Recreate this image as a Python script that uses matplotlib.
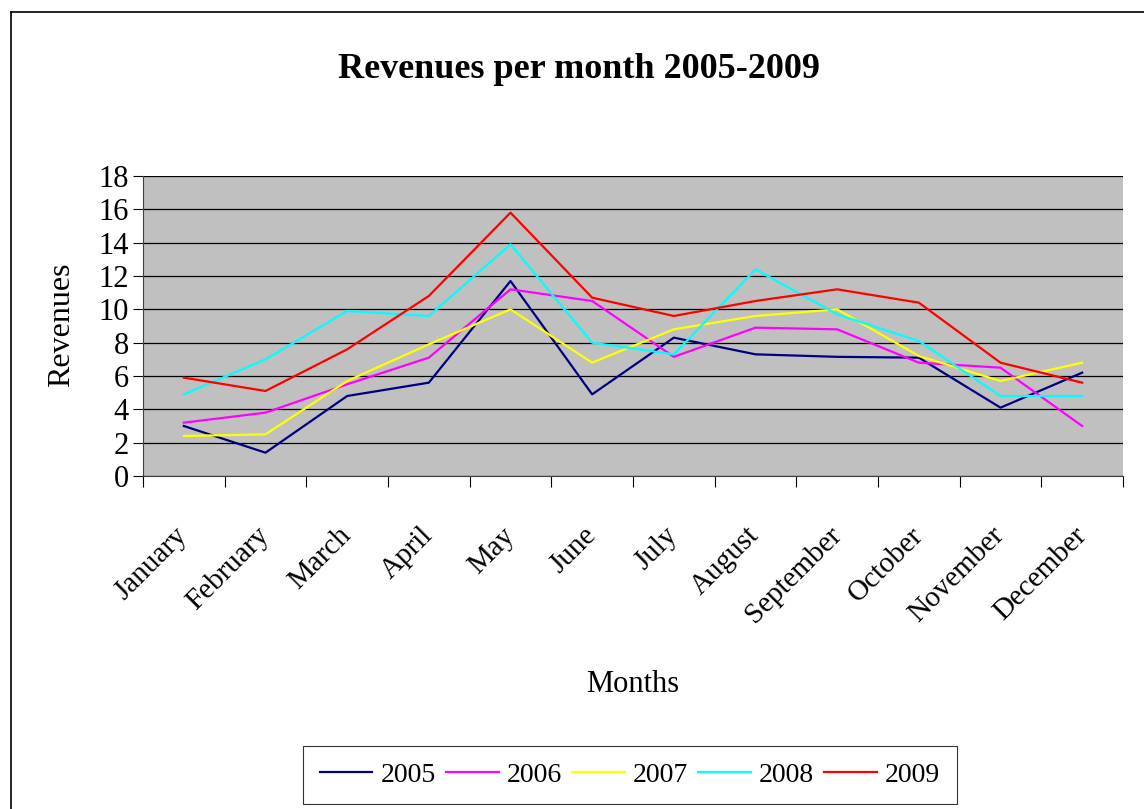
import matplotlib.pyplot as plt
from matplotlib.lines import Line2D

months = ['January', 'February', 'March', 'April', 'May', 'June', 'July',
          'August', 'September', 'October', 'November', 'December']

rev_2005 = [3.0, 1.4, 4.8, 5.6, 11.7, 4.9, 8.3, 7.3, 7.15, 7.1, 4.1, 6.2]
rev_2006 = [3.2, 3.8, 5.5, 7.1, 11.2, 10.5, 7.15, 8.9, 8.8, 6.8, 6.5, 3.0]
rev_2007 = [2.4, 2.5, 5.7, 7.9, 10.0, 6.8, 8.8, 9.6, 10.0, 7.2, 5.7, 6.8]
rev_2008 = [4.9, 7.0, 9.9, 9.6, 13.9, 8.0, 7.3, 12.4, 9.7, 8.1, 4.8, 4.8]
rev_2009 = [5.9, 5.1, 7.6, 10.8, 15.8, 10.7, 9.6, 10.5, 11.2, 10.4, 6.8, 5.6]

series = [('2005', rev_2005, '#000080'),
          ('2006', rev_2006, '#FF00FF'),
          ('2007', rev_2007, '#FFFF00'),
          ('2008', rev_2008, '#00FFFF'),
          ('2009', rev_2009, '#FF0000')]

plt.rcParams['font.family'] = ['Liberation Serif', 'DejaVu Serif']

fig = plt.figure(figsize=(11.44, 8.09), dpi=100)
ax = fig.add_axes([143 / 1144, 1 - 476 / 809, (1123 - 143) / 1144, 300 / 809])
ax.set_facecolor('#C0C0C0')

x = list(range(len(months)))
for name, vals, col in series:
    ax.plot(x, vals, color=col, lw=1.6, label=name)

ax.set_xlim(-0.5, 11.5)
ax.set_ylim(0, 18)
ax.set_yticks(range(0, 19, 2))
ax.tick_params(axis='y', labelsize=22, length=7, width=0.8, direction='out', pad=3)
ax.yaxis.grid(True, color='black', lw=0.9)
ax.set_axisbelow(True)

# month labels sit between the boundary ticks
ax.set_xticks(x)
ax.set_xticklabels(months, rotation=45, ha='right', va='center',
                   rotation_mode='anchor', fontsize=21)
ax.tick_params(axis='x', which='major', length=0, pad=40)
ax.set_xticks([i - 0.5 for i in range(13)], minor=True)
ax.tick_params(axis='x', which='minor', length=8, width=0.8, direction='out')

for side in ['top', 'right']:
    ax.spines[side].set_visible(False)
ax.spines['left'].set_color('#404040')
ax.spines['bottom'].set_color('#404040')

fig.text(0.5 * (338 + 820) / 1144, 1 - 70 / 809, 'Revenues per month 2005-2009',
         ha='center', va='center', fontsize=26, fontweight='bold')
fig.text(633 / 1144, 1 - 685 / 809, 'Months', ha='center', va='center', fontsize=22)
fig.text(62 / 1144, 1 - 325 / 809, 'Revenues', ha='center', va='center',
         fontsize=23, rotation=90)

handles = [Line2D([], [], color=c, lw=1.6) for _, _, c in series]
leg = fig.legend(handles, [s[0] for s in series], loc='center',
                 bbox_to_anchor=(630 / 1144, 1 - 775 / 809), ncol=5, fontsize=20,
                 frameon=True, fancybox=False, edgecolor='black', handlelength=1.9,
                 columnspacing=0.35, handletextpad=0.3, borderpad=0.6)
leg.get_frame().set_linewidth(0.8)

# outer chart border (left and top only visible)
fig.add_artist(Line2D([11 / 1144, 11 / 1144], [0, 1 - 12 / 809], color='black', lw=1.2))
fig.add_artist(Line2D([11 / 1144, 1], [1 - 12 / 809, 1 - 12 / 809], color='black', lw=1.2))

fig.savefig('out.png', dpi=100)
